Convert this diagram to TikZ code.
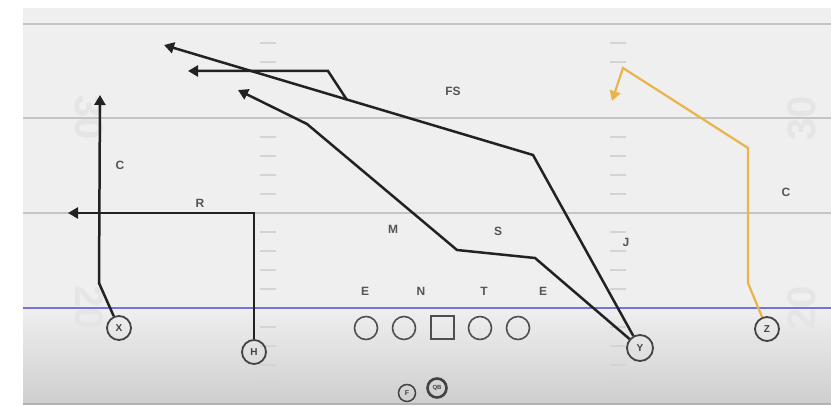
\documentclass[tikz,border=0pt]{standalone}
\usepackage{fontspec}
\setmainfont{Liberation Sans}
\usetikzlibrary{arrows.meta}
\definecolor{fieldbg}{HTML}{EFEFEF}
\definecolor{yardline}{HTML}{C4C4C4}
\definecolor{hashc}{HTML}{D4D4D4}
\definecolor{numc}{HTML}{E5E5E5}
\definecolor{scrim}{HTML}{7474DA}
\definecolor{routec}{HTML}{222222}
\definecolor{zroute}{HTML}{E9B44C}
\definecolor{labc}{HTML}{555555}
\tikzset{
  player/.style={circle,draw=routec!85,line width=1.8pt,minimum size=24pt,inner sep=0pt,font=\fontsize{10}{10}\selectfont\bfseries,text=routec!85},
  lineman/.style={circle,draw=routec!80,line width=1.6pt,minimum size=23pt,inner sep=0pt},
  ctrbox/.style={rectangle,draw=routec!80,line width=2pt,minimum size=23pt,inner sep=0pt},
  deflab/.style={font=\fontsize{12}{12}\selectfont\bfseries,text=labc},
  route/.style={draw=routec,line width=2.5pt,line join=miter},
  routearrow/.style={route,-{Triangle[length=10pt,width=11pt]}},
  hashmark/.style={draw=hashc,line width=1.2pt},
  yard/.style={draw=yardline,line width=2pt},
  fieldnum/.style={text=numc,font=\fontsize{40}{40}\selectfont\bfseries}
}
\begin{document}
\begin{tikzpicture}[x=1pt,y=-1pt]
\useasboundingbox (0,0) rectangle (831,406);
\fill[white] (0,0) rectangle (831,406);
\fill[fieldbg] (23,8) rectangle (831,308);
\shade[top color=fieldbg,bottom color=gray!38] (23,308) rectangle (831,403);
\draw[gray!60,line width=2pt] (23,404) -- (831,404);
% field numbers
\node[fieldnum,rotate=-90] (n30l) at (89,118) {30};
\node[fieldnum,rotate=-90] (n20l) at (89,308) {20};
\node[fieldnum,rotate=90] (n30r) at (802,118) {30};
\node[fieldnum,rotate=90] (n20r) at (802,308) {20};
% yard lines
\draw[yard] (23,24) -- (831,24);
\draw[yard] (23,118) -- (831,118);
\draw[yard] (23,213) -- (831,213);
% hash marks
\foreach \y in {43,62,137,156,175,194,232,251,270,289,327,346,365,384}{
  \draw[hashmark] (260,\y) -- (276,\y);
  \draw[hashmark] (610,\y) -- (626,\y);
}
% line of scrimmage
\draw[draw=scrim,line width=2pt] (23,308) -- (831,308);
% defense labels
\node[deflab] (fs) at (453,91) {FS};
\node[deflab] (cl) at (120,165) {C};
\node[deflab] (r) at (200,203) {R};
\node[deflab] (m) at (393,229) {M};
\node[deflab] (s) at (498,231) {S};
\node[deflab] (j) at (626,242) {J};
\node[deflab] (cr) at (786,192) {C};
\node[deflab] (e1) at (365,291) {E};
\node[deflab] (n) at (421,291) {N};
\node[deflab] (t) at (484,291) {T};
\node[deflab] (e2) at (543,291) {E};
% offense
\node[player] (X) at (119,328) {X};
\node[player] (H) at (254,352) {H};
\node[lineman] (lt) at (366,328) {};
\node[lineman] (lg) at (404,328) {};
\node[ctrbox] (c) at (442,328) {};
\node[lineman] (rg) at (480,328) {};
\node[lineman] (rt) at (518,328) {};
\node[player,minimum size=26pt] (Y) at (640,348) {Y};
\node[player] (Z) at (767,329) {Z};
\node[player,minimum size=17pt,line width=1.5pt,font=\fontsize{7}{7}\selectfont\bfseries] (F) at (407,393) {F};
\node[player,minimum size=19pt,line width=2.6pt,font=\fontsize{6}{6}\selectfont\bfseries] (QB) at (437,388) {QB};
% route waypoints
\coordinate (x1) at (99,283);
\coordinate (x2) at (100,95);
\coordinate (h1) at (254,213);
\coordinate (h2) at (68,213);
\coordinate (y1) at (533,155);
\coordinate (y2) at (164,45);
\coordinate (yk) at (347,100);
\coordinate (yk2) at (328,71);
\coordinate (yk3) at (188,71);
\coordinate (m1) at (535,258);
\coordinate (m2) at (457,250);
\coordinate (m3) at (307,124);
\coordinate (m4) at (238,90);
\coordinate (z1) at (748,283);
\coordinate (z2) at (748,148);
\coordinate (z3) at (623,68);
\coordinate (z4) at (612,101);
% routes
\draw[routearrow] (X) -- (x1) -- (x2);
\draw[routearrow] (H) -- (h1) -- (h2);
\draw[routearrow] (Y) -- (y1) -- (y2);
\draw[routearrow] (yk) -- (yk2) -- (yk3);
\draw[routearrow] (Y) -- (m1) -- (m2) -- (m3) -- (m4);
\draw[routearrow,draw=zroute,line width=2.2pt] (Z) -- (z1) -- (z2) -- (z3) -- (z4);
\end{tikzpicture}
\end{document}
